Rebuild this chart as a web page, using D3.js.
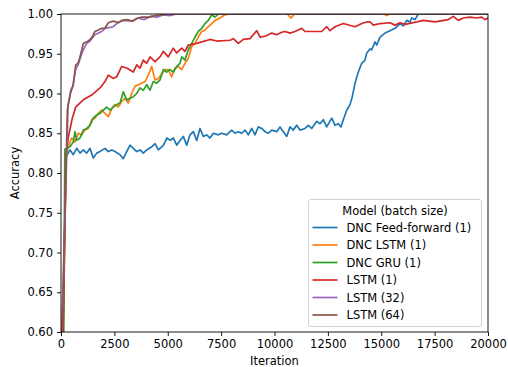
<!DOCTYPE html>
<html>
<head>
<meta charset="utf-8">
<script src="https://cdn.jsdelivr.net/npm/d3@7/dist/d3.min.js"></script>
<style>
  html, body { margin: 0; padding: 0; background: #fff; }
  svg { display: block; font-family: "DejaVu Sans", sans-serif; }
</style>
</head>
<body>
<svg id="chart" width="508" height="367"></svg>
<script>
// ---------- DATA ----------
const seriesNames = ["DNC Feed-forward (1)", "DNC LSTM (1)", "DNC GRU (1)", "LSTM (1)", "LSTM (32)", "LSTM (64)"];
const seriesColors = ["#1f77b4", "#ff7f0e", "#2ca02c", "#d62728", "#9467bd", "#8c564b"];
const legendTitle = "Model (batch size)";
const xTicks = [0, 2500, 5000, 7500, 10000, 12500, 15000, 17500, 20000];
const yTicks = [0.60, 0.65, 0.70, 0.75, 0.80, 0.85, 0.90, 0.95, 1.00];

const ffIter = [0,234,422,576,735,890,1045,1204,1358,1513,1672,1827,2061,2216,2375,2529,2764,2918,3077,3232,3387,3546,3700,3855,4014,4248,4403,4558,4717,4800,4956,5120,5260,5420,5574,5729,5888,6042,6197,6356,6511,6665,6825,6979,7134,7368,7527,7761,7996,8150,8305,8464,8618,8773,8932,9087,9242,9401,9555,9710,9869,10103,10258,10413,10572,10726,10881,11040,11195,11429,11584,11743,11977,12132,12286,12445,12680,12834,12989,13115,13223,13382,13537,13645,13771,13926,14085,14240,14320,14474,14553,14708,14788,14942,15176,15410,15645,15879,16033,16193,16347,16427,16581,16736,17000,20000];
const ffAcc  = [0.45,0.820,0.829,0.823,0.831,0.825,0.829,0.825,0.831,0.819,0.825,0.827,0.831,0.827,0.829,0.827,0.823,0.818,0.827,0.835,0.831,0.827,0.829,0.825,0.829,0.833,0.837,0.829,0.833,0.835,0.844,0.841,0.844,0.835,0.841,0.846,0.835,0.848,0.852,0.841,0.856,0.846,0.848,0.844,0.850,0.848,0.850,0.848,0.854,0.850,0.852,0.850,0.854,0.848,0.856,0.848,0.858,0.856,0.852,0.850,0.854,0.852,0.858,0.852,0.846,0.858,0.854,0.860,0.854,0.856,0.860,0.856,0.865,0.862,0.867,0.858,0.869,0.860,0.862,0.858,0.867,0.879,0.886,0.896,0.913,0.927,0.938,0.942,0.951,0.956,0.955,0.965,0.961,0.971,0.976,0.979,0.982,0.988,0.985,0.992,0.990,0.995,0.993,1.0,1.0,1.0];

const lstmDncIter = [0,234,342,501,656,810,970,1124,1279,1438,1593,1747,1906,2061,2216,2375,2529,2684,2843,2998,3152,3312,3466,3621,3780,3935,4089,4248,4403,4558,4717,4871,5026,5185,5340,5494,5653,5808,5963,6122,6276,6431,6590,6745,6899,7059,7213,7448,7682,7900,10600,10770,10950,15100,15255,15400,20000];
const lstmDncAcc  = [0.40,0.820,0.833,0.844,0.839,0.850,0.848,0.854,0.856,0.867,0.869,0.875,0.879,0.875,0.871,0.881,0.886,0.883,0.890,0.894,0.888,0.900,0.909,0.911,0.913,0.915,0.923,0.934,0.917,0.919,0.925,0.930,0.930,0.921,0.932,0.934,0.930,0.938,0.944,0.959,0.963,0.971,0.978,0.980,0.984,0.988,0.992,0.995,0.999,1.0,1.0,0.995,1.0,1.0,0.998,1.0,1.0];

const gruIter = [0,180,422,576,656,735,890,1045,1204,1358,1513,1672,1827,1981,2140,2295,2450,2609,2764,2918,3077,3232,3387,3546,3700,3855,4014,4169,4323,4483,4637,4792,4951,5106,5260,5420,5574,5653,5808,5963,6122,6276,6431,6590,6745,6899,7059,7213,7368,20000];
const gruAcc  = [0.05,0.830,0.833,0.839,0.852,0.841,0.844,0.854,0.856,0.860,0.869,0.873,0.875,0.879,0.883,0.879,0.883,0.886,0.888,0.902,0.892,0.894,0.896,0.900,0.907,0.904,0.911,0.904,0.915,0.913,0.917,0.930,0.927,0.930,0.927,0.934,0.938,0.946,0.942,0.955,0.963,0.971,0.978,0.982,0.988,0.992,0.999,0.996,1.0,1.0];

const lstm1Iter = [0,234,342,530,690,810,1045,1438,1827,2061,2216,2450,2609,2843,3077,3387,3546,3700,3855,4014,4169,4403,4637,4792,5026,5260,5420,5653,5808,5963,6356,6979,7293,7917,8071,8305,8539,8852,9167,9320,9555,9710,9869,10103,10338,10492,10726,10960,11274,11429,12211,12445,12600,12834,13223,13771,14085,14320,14474,14630,14942,15410,15645,15879,16113,16660,16970,17520,18143,18377,18610,18845,19157,19470,19705,19860,20000];
const lstm1Acc  = [0.45,0.820,0.845,0.869,0.883,0.886,0.892,0.898,0.907,0.915,0.923,0.919,0.921,0.934,0.932,0.927,0.936,0.932,0.942,0.938,0.946,0.940,0.946,0.953,0.946,0.957,0.951,0.957,0.953,0.961,0.963,0.968,0.966,0.967,0.969,0.963,0.968,0.969,0.979,0.971,0.972,0.974,0.976,0.974,0.977,0.978,0.976,0.978,0.982,0.978,0.978,0.984,0.979,0.984,0.988,0.984,0.988,0.990,0.990,0.986,0.988,0.989,0.986,0.989,0.987,0.990,0.992,0.990,0.993,0.997,0.992,0.995,0.996,0.995,0.996,0.993,0.995];

const lstm32Iter = [0,330,470,550,680,800,920,1045,1204,1359,1593,1906,2061,2450,2700,2950,3300,3600,3900,4200,4500,4800,5100,5400,20000];
const lstm32Acc  = [0.55,0.885,0.905,0.909,0.930,0.936,0.946,0.955,0.963,0.966,0.974,0.978,0.982,0.984,0.990,0.992,0.991,0.995,0.993,0.997,0.996,0.999,0.998,1.0,1.0];

const lstm64Iter = [0,300,440,576,689,800,890,1045,1279,1430,1593,1750,1906,2060,2216,2450,2700,2843,3100,3350,3600,3780,4100,4400,4717,5000,20000];
const lstm64Acc  = [0.55,0.880,0.900,0.911,0.936,0.938,0.946,0.963,0.966,0.970,0.978,0.980,0.982,0.982,0.989,0.991,0.989,0.992,0.993,0.991,0.995,0.996,0.996,0.998,0.999,1.0,1.0];

const seriesIter = [ffIter, lstmDncIter, gruIter, lstm1Iter, lstm32Iter, lstm64Iter];
const seriesAcc  = [ffAcc, lstmDncAcc, gruAcc, lstm1Acc, lstm32Acc, lstm64Acc];

// ---------- CHART ----------
const FS = "11.5px";
const svg = d3.select("#chart");
const margin = { left: 61, top: 14, right: 20, bottom: 35 };
const W = 508, H = 367;
const iw = W - margin.left - margin.right;   // 427
const ih = H - margin.top - margin.bottom;   // 318

const x = d3.scaleLinear().domain([0, 20000]).range([0, iw]);
const y = d3.scaleLinear().domain([0.6, 1.0]).range([ih, 0]);

const g = svg.append("g").attr("transform", `translate(${margin.left},${margin.top})`);

g.append("clipPath").attr("id", "clip")
  .append("rect").attr("x", 0).attr("y", 0).attr("width", iw).attr("height", ih);

const line = d3.line().x(d => x(d[0])).y(d => y(d[1]));

const linesG = g.append("g").attr("clip-path", "url(#clip)");
seriesNames.forEach((name, i) => {
  const pts = seriesIter[i].map((it, j) => [it, seriesAcc[i][j]]);
  linesG.append("path")
    .datum(pts)
    .attr("fill", "none")
    .attr("stroke", seriesColors[i])
    .attr("stroke-width", 1.7)
    .attr("stroke-linejoin", "round")
    .attr("stroke-linecap", "square")
    .attr("d", line);
});

// Axes
const xAxis = d3.axisBottom(x).tickValues(xTicks).tickFormat(d3.format("d")).tickSize(4).tickPadding(4);
const yAxis = d3.axisLeft(y).tickValues(yTicks).tickFormat(d3.format(".2f")).tickSize(4).tickPadding(4);

const gx = g.append("g").attr("transform", `translate(0,${ih})`).call(xAxis);
const gy = g.append("g").call(yAxis);
[gx, gy].forEach(a => {
  a.select(".domain").remove();
  a.selectAll(".tick line").attr("stroke", "#000").attr("stroke-width", 0.9);
  a.selectAll(".tick text").attr("fill", "#000").style("font-size", FS).style("font-family", "DejaVu Sans, sans-serif");
});

// Spines
g.append("rect").attr("x", 0).attr("y", 0).attr("width", iw).attr("height", ih)
  .attr("fill", "none").attr("stroke", "#000").attr("stroke-width", 0.9);

// Axis labels
svg.append("text").attr("x", margin.left + iw / 2).attr("y", 364.5)
  .attr("text-anchor", "middle").style("font-size", FS).text("Iteration");
svg.append("text")
  .attr("transform", `translate(19,${margin.top + ih / 2}) rotate(-90)`)
  .attr("text-anchor", "middle").style("font-size", FS).text("Accuracy");

// Legend
const lg = svg.append("g");
lg.append("rect").attr("x", 308.5).attr("y", 199.5).attr("width", 173).attr("height", 127)
  .attr("rx", 2.5).attr("fill", "#fff").attr("fill-opacity", 0.8)
  .attr("stroke", "#cccccc").attr("stroke-width", 0.9);
lg.append("text").attr("x", 395).attr("y", 214.8).attr("text-anchor", "middle")
  .style("font-size", FS).text(legendTitle);
seriesNames.forEach((name, i) => {
  const cy = 227.5 + i * 17.5;
  lg.append("line").attr("x1", 312.5).attr("x2", 337.5).attr("y1", cy).attr("y2", cy)
    .attr("stroke", seriesColors[i]).attr("stroke-width", 1.7);
  lg.append("text").attr("x", 346.5).attr("y", cy + 4.1)
    .style("font-size", FS).text(name);
});
</script>
</body>
</html>
